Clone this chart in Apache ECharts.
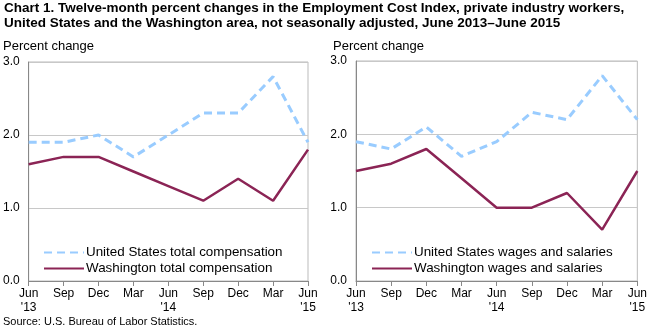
<!DOCTYPE html>
<html><head><meta charset="utf-8">
<script src="https://cdn.jsdelivr.net/npm/echarts@6/dist/echarts.min.js"></script>
<style>html,body{margin:0;padding:0;background:#fff}#c{width:650px;height:328px}</style>
</head><body><div id="c"></div>
<script>
const categories = ["Jun\n'13","Sep","Dec","Mar","Jun\n'14","Sep","Dec","Mar","Jun\n'15"];
const usTotalComp = [1.9,1.9,2.0,1.7,2.0,2.3,2.3,2.8,1.9];
const waTotalComp = [1.6,1.7,1.7,1.5,1.3,1.1,1.4,1.1,1.8];
const usWages = [1.9,1.8,2.1,1.7,1.9,2.3,2.2,2.8,2.2];
const waWages = [1.5,1.6,1.8,1.4,1.0,1.0,1.2,0.7,1.5];
const yTicks = [0,1,2,3];

const FONT = '"Liberation Sans", Arial, sans-serif';
const BLUE = '#99ccff', MAROON = '#8b2455';
const chart = echarts.init(document.getElementById('c'), null, {renderer:'canvas'});

function xAxis(i){return {type:'category',gridIndex:i,data:categories,boundaryGap:false,
  axisLine:{lineStyle:{color:'#888',width:1}},axisTick:{show:true,length:5,lineStyle:{color:'#888'}},
  axisLabel:{color:'#000',fontSize:12,fontFamily:FONT,lineHeight:14,margin:6,interval:0},splitLine:{show:false}};}
function yAxis(i){return {type:'value',gridIndex:i,min:yTicks[0],max:yTicks[yTicks.length-1],interval:1,
  axisLine:{show:true,lineStyle:{color:'#888'}},axisTick:{show:false},
  axisLabel:{color:'#000',fontSize:12,fontFamily:FONT,margin:9,formatter:v=>v.toFixed(1)},
  splitLine:{lineStyle:{color:'#c8c8c8',width:1}}};}
function line(name,data,i,dashed){return {name,type:'line',xAxisIndex:i,yAxisIndex:i,data,symbol:'none',
  lineStyle:{color:dashed?BLUE:MAROON,width:dashed?3:2.5,type:dashed?[8,5]:'solid'},itemStyle:{color:dashed?BLUE:MAROON},silent:true,animation:false};}
function legend(names,left){return {data:names,left,top:246,orient:'vertical',padding:0,
    itemWidth:40,itemHeight:14,itemGap:3,itemStyle:{opacity:0,borderWidth:0},lineStyle:{opacity:1},
    textStyle:{fontSize:13.4,fontFamily:FONT,color:'#000',padding:[0,0,0,-3]},selectedMode:false};}
function txt(t,left,top,size,bold){return {text:t,left,top,padding:0,textStyle:{fontSize:size,fontWeight:bold?'bold':'normal',fontFamily:FONT,color:'#000',lineHeight:bold?15:undefined}};}

chart.setOption({
  animation:false,
  title:[txt('Chart 1. Twelve-month percent changes in the Employment Cost Index, private industry workers,\nUnited States and the Washington area, not seasonally adjusted, June 2013\u2013June 2015',4,1,13.5,true),
    txt('Percent change',3,40,13,false),
    txt('Percent change',333,40,13,false),
    txt('Source: U.S. Bureau of Labor Statistics.',3,316,11,false)],
  grid:[{left:26,right:342,top:62,bottom:47,show:true,borderColor:'#bbb',borderWidth:1},
        {left:356,right:9,top:61,bottom:47,show:true,borderColor:'#bbb',borderWidth:1}],
  xAxis:[xAxis(0),xAxis(1)],
  yAxis:[yAxis(0),yAxis(1)],
  legend:[legend(['United States total compensation','Washington total compensation'],43),
          legend(['United States wages and salaries','Washington wages and salaries'],371)],
  series:[line('United States total compensation',usTotalComp,0,true),line('Washington total compensation',waTotalComp,0,false),
          line('United States wages and salaries',usWages,1,true),line('Washington wages and salaries',waWages,1,false)]
});
</script></body></html>
